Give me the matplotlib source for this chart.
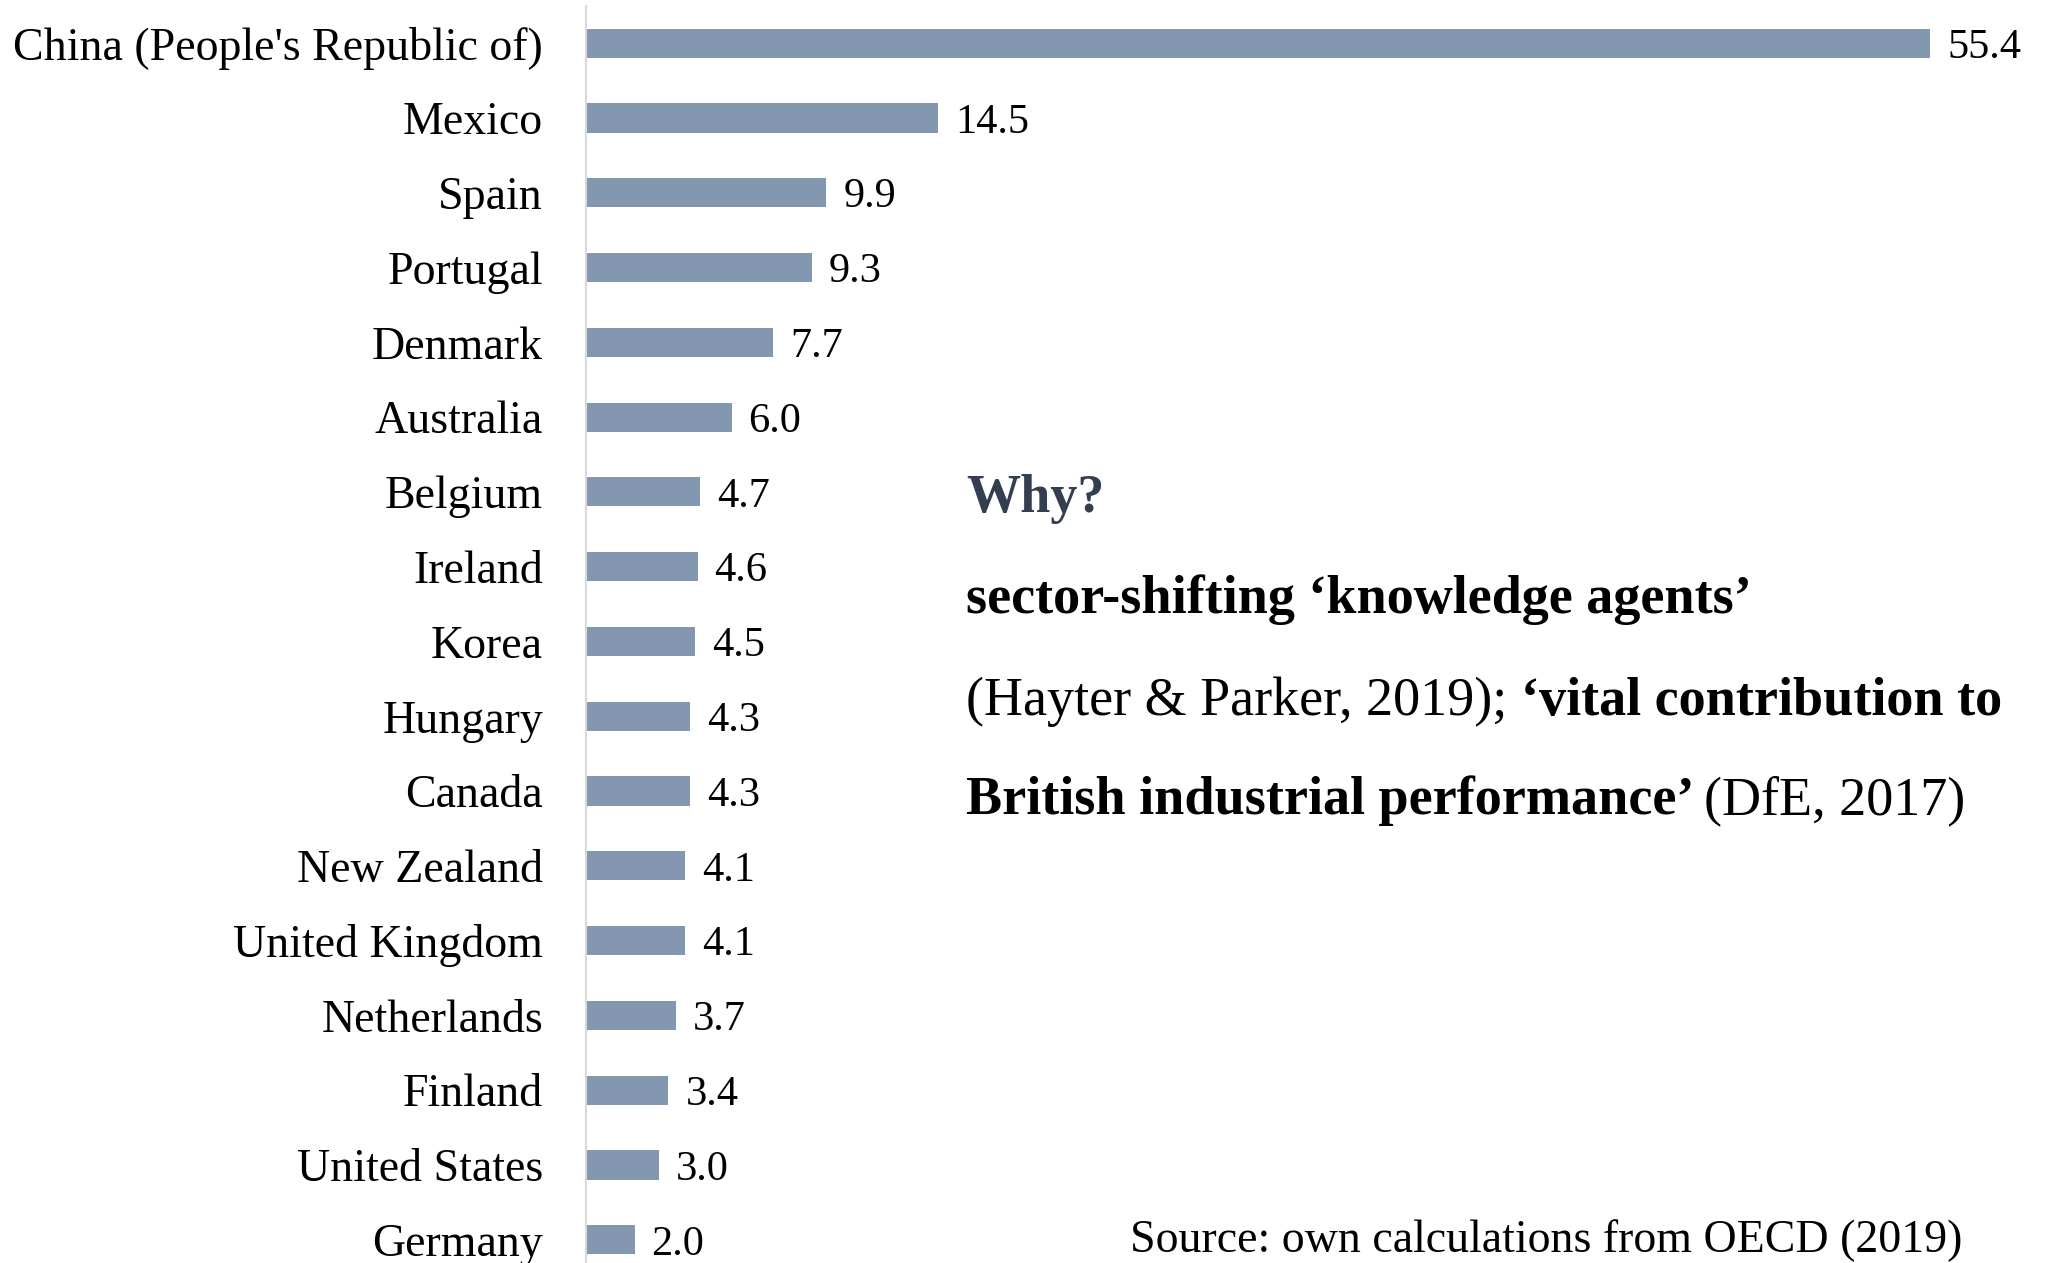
import matplotlib
matplotlib.use("Agg")
import matplotlib.pyplot as plt

plt.rcParams['font.family'] = ['Liberation Serif', 'DejaVu Serif']

countries = ["China (People's Republic of)", "Mexico", "Spain", "Portugal", "Denmark",
             "Australia", "Belgium", "Ireland", "Korea", "Hungary", "Canada",
             "New Zealand", "United Kingdom", "Netherlands", "Finland",
             "United States", "Germany"]
values = [55.4, 14.5, 9.9, 9.3, 7.7, 6.0, 4.7, 4.6, 4.5, 4.3, 4.3, 4.1, 4.1, 3.7, 3.4, 3.0, 2.0]

bar_color = '#8497B0'

fig = plt.figure(figsize=(20.47, 12.63), dpi=100)
ax = fig.add_axes([586 / 2047, 0.0, 1440 / 2047, 1 - 6.5 / 1263])

ypos = list(range(len(countries)))
ax.barh(ypos, values, height=0.39, color=bar_color)
ax.set_ylim(len(countries) - 1 + 0.31, -0.49)
ax.set_xlim(0, 1440 / 24.26)

for y, v in zip(ypos, values):
    ax.annotate(f"{v:.1f}", xy=(v, y), xytext=(17, 0), textcoords='offset pixels',
                va='center_baseline', ha='left', fontsize=30.5)

ax.set_yticks(ypos)
ax.set_yticklabels(countries, fontsize=33)
ax.tick_params(axis='y', length=0, pad=31)
ax.set_xticks([])
for s in ['top', 'right', 'bottom']:
    ax.spines[s].set_visible(False)
ax.spines['left'].set_color('#D9D9D9')
ax.spines['left'].set_linewidth(1.5)

# side note, bold and regular runs laid out one after another
fig.canvas.draw()
renderer = fig.canvas.get_renderer()


def write_line(x_px, y_px, pieces, size=39):
    x = x_px
    for txt, weight, color in pieces:
        t = fig.text(x / 2047, 1 - y_px / 1263, txt, fontsize=size, fontweight=weight,
                     color=color, va='center_baseline', ha='left')
        bb = t.get_window_extent(renderer=renderer)
        x += bb.width


write_line(966, 493, [("Why?", 'bold', '#333F50')])
write_line(966, 594, [("sector-shifting \u2018knowledge agents\u2019", 'bold', 'black')])
write_line(966, 696, [("(Hayter & Parker, 2019); ", 'normal', 'black'),
                      ("\u2018vital contribution to", 'bold', 'black')])
write_line(966, 795, [("British industrial performance\u2019 ", 'bold', 'black'),
                      ("(DfE, 2017)", 'normal', 'black')])

fig.text(1962 / 2047, 1 - 1236 / 1263, "Source: own calculations from OECD (2019)",
         fontsize=33, ha='right', va='center_baseline')

fig.savefig("out.png", dpi=100)
